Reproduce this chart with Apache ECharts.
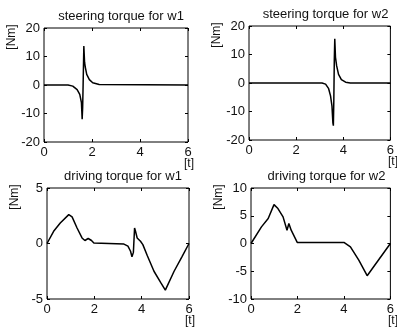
<!DOCTYPE html>
<html>
<head>
<meta charset="utf-8">
<script src="https://cdn.jsdelivr.net/npm/echarts@6/dist/echarts.min.js"></script>
<style>
  html, body { margin: 0; padding: 0; background: #fff; }
  #chart { width: 397px; height: 332px; }
</style>
</head>
<body>
<div id="chart"></div>
<script>
// steering torque for w1
const steerT1 = [0, 1.0, 1.2, 1.38, 1.49, 1.56, 1.59, 1.61, 1.63, 1.66, 1.69, 1.72, 1.78, 1.89, 2.03, 2.3, 6];
const steerV1 = [0, 0, -0.4, -1.6, -3.3, -6.2, -12, -8, 0, 13.7, 8, 6.3, 3.7, 1.9, 0.8, 0.2, 0];
// steering torque for w2
const steerT2 = [0, 3.1, 3.25, 3.38, 3.46, 3.52, 3.56, 3.58, 3.6, 3.62, 3.64, 3.67, 3.72, 3.8, 3.92, 4.1, 4.3, 6];
const steerV2 = [0, 0, -0.4, -2, -4.5, -8, -14, -15, -6, 8, 15.5, 9, 6, 3, 1.2, 0.3, 0, 0];
// driving torque for w1
const driveT1 = [0, 0.28, 0.56, 0.92, 0.99, 1.06, 1.27, 1.48, 1.6, 1.74, 1.88, 1.98, 3.25, 3.42, 3.53, 3.59, 3.65, 3.7, 3.74, 3.81, 3.95, 4.05, 4.24, 4.52, 4.8, 5.0, 5.37, 5.7, 6];
const driveV1 = [0, 1.1, 1.85, 2.6, 2.65, 2.4, 1.4, 0.5, 0.27, 0.45, 0.27, 0.05, -0.05, -0.24, -0.7, -1.2, -0.8, 1.4, 1.1, 0.5, 0.2, -0.1, -1.1, -2.5, -3.5, -4.2, -2.5, -1.2, 0];
// driving torque for w2
const driveT2 = [0, 0.45, 0.74, 0.99, 1.16, 1.38, 1.55, 1.63, 1.73, 1.99, 4.0, 4.28, 4.64, 5.0, 6];
const driveV2 = [0, 3.0, 4.5, 7.0, 6.3, 4.8, 2.4, 3.6, 2.4, 0.2, 0.2, -0.6, -3, -5.8, 0];

const titles = ["steering torque for w1", "steering torque for w2", "driving torque for w1", "driving torque for w2"];
const xTicks = { min: 0, max: 6, interval: 2 };
const yRanges = [[-20, 20, 10], [-20, 20, 10], [-5, 5, 5], [-10, 10, 5]];

const font = "'Liberation Sans', Arial, sans-serif";
const grids = [
  { left: 44, top: 28, width: 144, height: 114 },
  { left: 249, top: 26, width: 143, height: 114 },
  { left: 47, top: 188, width: 142, height: 111 },
  { left: 251, top: 188, width: 141, height: 111 }
];

const pairs = (t, v) => t.map((x, i) => [x, v[i]]);
const seriesData = [pairs(steerT1, steerV1), pairs(steerT2, steerV2), pairs(driveT1, driveV1), pairs(driveT2, driveV2)];

const tick = { inside: true, length: 3, lineStyle: { color: "#000", width: 1 } };
const noLine = { show: false, onZero: false };
const label = { color: "#111", fontSize: 13, fontFamily: font };

const xAxis = [], yAxis = [], series = [], title = [], graphic = [];
grids.forEach((g, i) => {
  xAxis.push({ gridIndex: i, type: "value", position: "bottom", ...xTicks, axisLine: noLine, axisTick: tick,
    splitLine: { show: false }, axisLabel: { ...label, margin: 4 } });
  xAxis.push({ gridIndex: i, type: "value", position: "top", ...xTicks, axisLine: noLine, axisTick: tick,
    splitLine: { show: false }, axisLabel: { show: false } });
  const [mn, mx, iv] = yRanges[i];
  yAxis.push({ gridIndex: i, type: "value", position: "left", min: mn, max: mx, interval: iv, axisLine: noLine,
    axisTick: tick, splitLine: { show: false }, axisLabel: { ...label, margin: 4 } });
  yAxis.push({ gridIndex: i, type: "value", position: "right", min: mn, max: mx, interval: iv, axisLine: noLine,
    axisTick: tick, splitLine: { show: false }, axisLabel: { show: false } });
  series.push({ type: "line", xAxisIndex: 2 * i, yAxisIndex: 2 * i, data: seriesData[i], showSymbol: false,
    lineStyle: { color: "#000", width: 1.5 }, silent: true });
  title.push({ text: titles[i], left: g.left + g.width / 2, top: g.top - 23, textAlign: "center",
    textStyle: { color: "#111", fontSize: 13, fontWeight: "normal", fontFamily: font } });
  graphic.push({ type: "text", x: g.left - 32, y: g.top + 9, rotation: Math.PI / 2,
    style: { text: "[Nm]", fill: "#111", fontSize: 12, fontFamily: font, align: "center", verticalAlign: "middle" } });
  graphic.push({ type: "text", x: g.left + g.width + 1, y: g.top + g.height + 22,
    style: { text: "[t]", fill: "#111", fontSize: 12, fontFamily: font, align: "center", verticalAlign: "middle" } });
});

const chart = echarts.init(document.getElementById("chart"));
chart.setOption({
  animation: false,
  backgroundColor: "#fff",
  title,
  grid: grids.map(g => ({ ...g, show: true, borderColor: "#000", borderWidth: 1, backgroundColor: "transparent" })),
  xAxis,
  yAxis,
  series,
  graphic
});
</script>
</body>
</html>
